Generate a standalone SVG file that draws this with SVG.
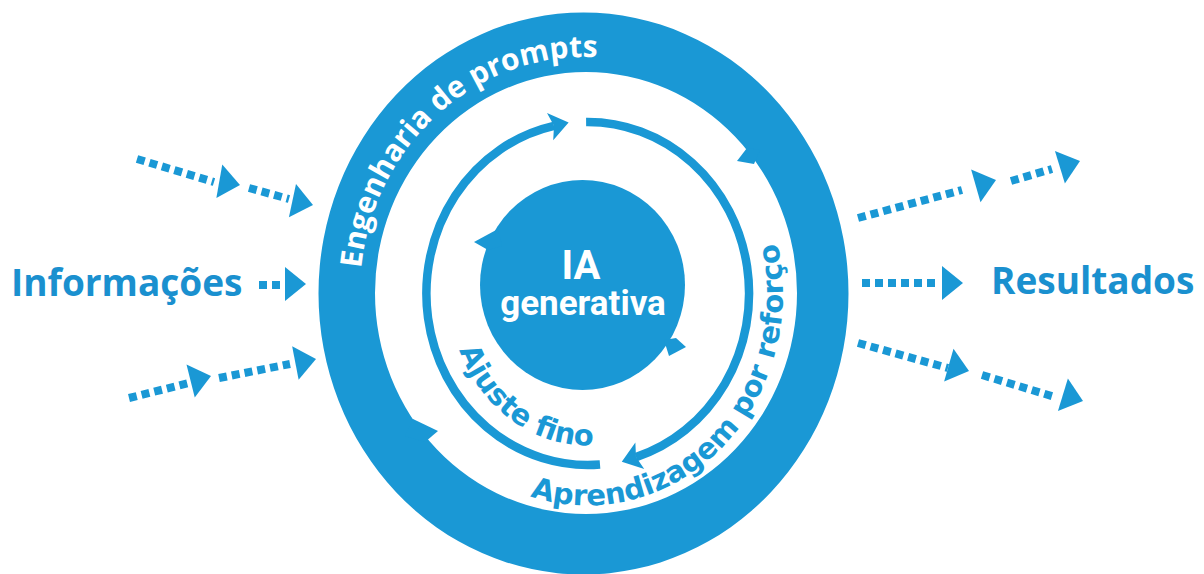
<svg xmlns="http://www.w3.org/2000/svg" xmlns:xlink="http://www.w3.org/1999/xlink" width="1204" height="574" viewBox="0 0 1204 574">
  <style>
    .blue { fill: #1a98d5; }
    .dots { stroke: #1a98d5; stroke-width: 8; stroke-dasharray: 8 5; fill: none; }
    .arc { stroke: #1a98d5; stroke-width: 8.5; fill: none; }
    .ringtxt { font-family: "Open Sans", "Liberation Sans", sans-serif; font-weight: bold; font-size: 30px; fill: #ffffff; }
    .arctxt { font-family: "DejaVu Sans", "Liberation Sans", sans-serif; font-weight: bold; font-size: 29px; fill: #1a98d5; }
    .core { font-family: Roboto, "Liberation Sans", sans-serif; font-weight: bold; fill: #ffffff; text-anchor: middle; }
    .label { font-family: "Open Sans", "Liberation Sans", sans-serif; font-weight: bold; font-size: 37px; fill: #1a90cf; }
  </style>
  <defs>
    <path id="ah" d="M-21,-17 L0,0 L-21,17 Z"/>
    <marker id="arrow" markerUnits="userSpaceOnUse" markerWidth="40" markerHeight="40" refX="3" refY="0" orient="auto" overflow="visible" viewBox="-20 -20 40 40">
      <path d="M-1,-14 L18,0 L-1,14 L3,0 Z" fill="#1a98d5"/>
    </marker>
    <path id="p-ring" d="M361.2,268.3 A225,236 0 0 1 697.5,88.6"/>
    <path id="p-rl" d="M520.8,492.7 A195.5,212 0 0 0 764.7,203.9"/>
    <path id="p-ft" d="M456.3,340.5 A138,152 0 0 0 634.7,436.3"/>
  </defs>
  <rect width="1204" height="574" fill="#ffffff"/>

  <g id="node-ring">
    <path class="blue" fill-rule="evenodd" d="M318.5,293.5 A265,281 0 1 0 848.5,293.5 A265,281 0 1 0 318.5,293.5 Z M375,293 A211,221 0 1 0 797,293 A211,221 0 1 0 375,293 Z"/>
    <polygon class="blue" points="760,150 747,148 737,161 754,164"/>
    <polygon class="blue" points="405,436 413,419 438,431 425,442"/>
    <text class="ringtxt"><textPath xlink:href="#p-ring" href="#p-ring" startOffset="0">Engenharia de prompts</textPath></text>
  </g>

  <g id="node-core">
    <ellipse class="blue" cx="582.5" cy="285" rx="102.5" ry="105"/>
    <polygon class="blue" points="502,246 498,229 474,242 488,250"/>
    <polygon class="blue" points="664,340 676,338 686,347 669,356"/>
    <text class="core" x="581" y="279" font-size="40">IA</text>
    <text class="core" x="583" y="315" font-size="35">generativa</text>
  </g>

  <g id="node-info">
    <text class="label" x="11" y="296">Informações</text>
  </g>
  <g id="node-results">
    <text class="label" x="991" y="294">Resultados</text>
  </g>

  <g id="connectors">
    <path id="c-fine" class="arc" d="M600,464.5 A161.5,171.5 0 0 1 554,125.8" marker-end="url(#arrow)"/>
    <path id="c-rl" class="arc" d="M586.1,122 A161.5,171.5 0 0 1 636,457.1" marker-end="url(#arrow)"/>
    <text class="arctxt"><textPath xlink:href="#p-rl" href="#p-rl" startOffset="10">Aprendizagem por reforço</textPath></text>
    <text class="arctxt"><textPath xlink:href="#p-ft" href="#p-ft" startOffset="10">Ajuste fino</textPath></text>

    <g id="inputs">
      <line class="dots" x1="137" y1="159" x2="214" y2="182"/>
      <use href="#ah" class="blue" transform="translate(240,185) rotate(10)"/>
      <line class="dots" x1="249" y1="188" x2="289" y2="199"/>
      <use href="#ah" class="blue" transform="translate(313,205) rotate(12)"/>
      <line class="dots" x1="259" y1="285" x2="280" y2="285"/>
      <use href="#ah" class="blue" transform="translate(306,284)"/>
      <line class="dots" x1="129" y1="398" x2="189" y2="383"/>
      <use href="#ah" class="blue" transform="translate(211,376) rotate(-14)"/>
      <line class="dots" x1="219" y1="378" x2="290" y2="364"/>
      <use href="#ah" class="blue" transform="translate(316,359) rotate(-11)"/>
    </g>
    <g id="outputs">
      <line class="dots" x1="858" y1="218" x2="962" y2="190"/>
      <use href="#ah" class="blue" transform="translate(996,180) rotate(-16)"/>
      <line class="dots" x1="1011" y1="181" x2="1052" y2="169"/>
      <use href="#ah" class="blue" transform="translate(1080,161) rotate(-17)"/>
      <line class="dots" x1="862" y1="283" x2="937" y2="283"/>
      <use href="#ah" class="blue" transform="translate(963,283)"/>
      <line class="dots" x1="858" y1="343" x2="948" y2="368"/>
      <use href="#ah" class="blue" transform="translate(969,371) rotate(16)"/>
      <line class="dots" x1="982" y1="375" x2="1055" y2="397"/>
      <use href="#ah" class="blue" transform="translate(1083,401) rotate(17)"/>
    </g>
  </g>
</svg>
